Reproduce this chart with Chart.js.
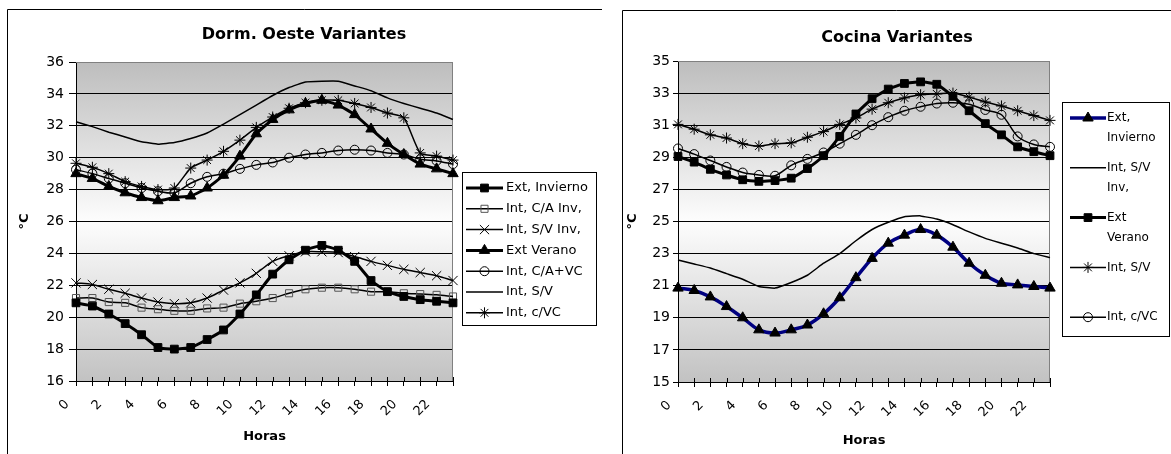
<!DOCTYPE html>
<html>
<head>
<meta charset="utf-8">
<script src="https://cdn.jsdelivr.net/npm/chart.js@4.4.1/dist/chart.umd.min.js"></script>
<style>
  html, body { margin: 0; padding: 0; background: #fff; }
  body { width: 1171px; height: 454px; position: relative; overflow: hidden; }
  .wrap { position: absolute; top: 0; height: 454px; }
  #w1 { left: 0; width: 612px; }
  #w2 { left: 612px; width: 559px; }
  canvas { display: block; }
</style>
</head>
<body>
<div class="wrap" id="w1"><canvas id="c1" width="612" height="454"></canvas></div>
<div class="wrap" id="w2"><canvas id="c2" width="559" height="454"></canvas></div>
<script>
// Hours of the day (category axis)
const horas = [0, 1, 2, 3, 4, 5, 6, 7, 8, 9, 10, 11, 12, 13, 14, 15, 16, 17, 18, 19, 20, 21, 22, 23];

// Dormitorio oeste (°C)
const dormExtInvierno = [20.9, 20.7, 20.2, 19.6, 18.9, 18.1, 18.0, 18.1, 18.6, 19.2, 20.2, 21.4, 22.7, 23.6, 24.2, 24.5, 24.2, 23.5, 22.3, 21.6, 21.3, 21.1, 21.0, 20.9];
const dormIntCAInv    = [21.2, 21.2, 20.95, 20.9, 20.6, 20.5, 20.4, 20.4, 20.55, 20.6, 20.85, 21.0, 21.2, 21.5, 21.75, 21.85, 21.85, 21.75, 21.6, 21.6, 21.5, 21.45, 21.4, 21.3];
const dormIntSVInv    = [22.15, 22.05, 21.75, 21.5, 21.2, 20.95, 20.85, 20.9, 21.2, 21.7, 22.15, 22.75, 23.5, 23.85, 24.1, 24.1, 24.05, 23.8, 23.5, 23.25, 23.0, 22.8, 22.6, 22.3];
const dormExtVerano   = [29.0, 28.7, 28.2, 27.8, 27.5, 27.3, 27.5, 27.6, 28.1, 28.9, 30.1, 31.5, 32.4, 33.0, 33.4, 33.6, 33.3, 32.7, 31.8, 30.9, 30.2, 29.6, 29.3, 29.0];
const dormIntCAVC     = [29.25, 29.0, 28.7, 28.4, 28.1, 27.9, 27.8, 28.4, 28.8, 29.0, 29.3, 29.55, 29.7, 30.0, 30.2, 30.3, 30.45, 30.5, 30.45, 30.3, 30.2, 29.9, 29.8, 29.6];
const dormIntSV       = [32.25, 31.95, 31.6, 31.3, 31.0, 30.85, 30.95, 31.2, 31.55, 32.1, 32.7, 33.3, 33.9, 34.4, 34.75, 34.8, 34.8, 34.5, 34.2, 33.75, 33.4, 33.1, 32.8, 32.4];
const dormIntCVC      = [29.65, 29.4, 29.0, 28.5, 28.2, 28.0, 28.1, 29.35, 29.85, 30.4, 31.1, 31.9, 32.55, 33.1, 33.45, 33.6, 33.6, 33.4, 33.15, 32.8, 32.5, 30.3, 30.1, 29.85];

// Cocina (°C)
const cocExtInvierno = [20.85, 20.7, 20.3, 19.7, 19.0, 18.25, 18.05, 18.25, 18.55, 19.25, 20.25, 21.5, 22.7, 23.65, 24.15, 24.5, 24.15, 23.4, 22.4, 21.65, 21.15, 21.05, 20.95, 20.85];
const cocIntSVInv    = [22.6, 22.35, 22.1, 21.75, 21.4, 20.95, 20.85, 21.2, 21.65, 22.4, 23.0, 23.8, 24.5, 24.95, 25.3, 25.35, 25.15, 24.8, 24.35, 23.95, 23.65, 23.35, 23.0, 22.75];
const cocExtVerano   = [29.05, 28.7, 28.25, 27.9, 27.6, 27.5, 27.55, 27.7, 28.3, 29.1, 30.3, 31.7, 32.65, 33.25, 33.6, 33.7, 33.55, 32.8, 31.9, 31.1, 30.4, 29.65, 29.35, 29.1];
const cocIntSV       = [31.05, 30.75, 30.4, 30.2, 29.85, 29.7, 29.85, 29.9, 30.25, 30.6, 31.05, 31.45, 32.0, 32.4, 32.7, 32.9, 32.95, 33.0, 32.75, 32.45, 32.2, 31.9, 31.6, 31.3];
const cocIntCVC      = [29.55, 29.2, 28.8, 28.4, 28.05, 27.9, 27.85, 28.5, 28.9, 29.3, 29.85, 30.4, 31.0, 31.5, 31.9, 32.15, 32.35, 32.4, 32.3, 31.95, 31.65, 30.3, 29.8, 29.65];

// Series names
const dormNames = ['Ext, Invierno', 'Int, C/A Inv,', 'Int, S/V Inv,', 'Ext Verano', 'Int, C/A+VC', 'Int, S/V', 'Int, c/VC'];
const cocNames  = ['Ext,\nInvierno', 'Int, S/V\nInv,', 'Ext\nVerano', 'Int, S/V', 'Int, c/VC'];

// Axis ranges
const dormY = { min: 16, max: 36, step: 2 };
const cocY  = { min: 15, max: 35, step: 2 };

const FONT = '"DejaVu Sans", "Liberation Sans", sans-serif';
Chart.defaults.font.family = FONT;
Chart.defaults.color = '#000';

function series(label, data, o) {
  return Object.assign({
    label, data,
    borderColor: '#000', borderWidth: 1.5,
    pointStyle: false, pointRadius: 0, pointBorderWidth: 1,
    pointBackgroundColor: '#000', pointBorderColor: '#000',
    tension: 0.3, fill: false
  }, o);
}

function drawMarker(ctx, ds, x, y) {
  if (!ds.pointStyle || !ds.pointRadius) return;
  ctx.fillStyle = ds.pointBackgroundColor;
  ctx.strokeStyle = ds.pointBorderColor;
  ctx.lineWidth = ds.pointBorderWidth;
  Chart.helpers.drawPoint(ctx, { pointStyle: ds.pointStyle, rotation: 0, radius: ds.pointRadius, borderWidth: ds.pointBorderWidth }, x, y);
}

// Plot background, frame, titles and legend drawn around the Chart.js plot
const decor = {
  id: 'decor',
  beforeDraw(chart, args, o) {
    const { ctx, chartArea: a } = chart;
    ctx.save();
    const g = ctx.createLinearGradient(0, a.top, 0, a.bottom);
    g.addColorStop(0, '#bdbdbd');
    g.addColorStop(0.5, '#fdfdfd');
    g.addColorStop(1, '#c2c2c2');
    ctx.fillStyle = g;
    ctx.fillRect(a.left, a.top, a.right - a.left, a.bottom - a.top);

    ctx.strokeStyle = '#000';
    ctx.lineWidth = 1;
    ctx.beginPath();
    ctx.moveTo(o.frameX + 0.5, chart.height);
    ctx.lineTo(o.frameX + 0.5, o.frameY + 0.5);
    ctx.lineTo(o.frameRight, o.frameY + 0.5);
    ctx.stroke();

    ctx.fillStyle = '#000';
    ctx.textAlign = 'center';
    ctx.textBaseline = 'middle';
    ctx.font = 'bold ' + o.titleSize + 'px ' + FONT;
    ctx.fillText(o.title, o.titleX, o.titleY);
    ctx.font = 'bold 13px ' + FONT;
    ctx.fillText('Horas', (a.left + a.right) / 2, o.xTitleY);
    ctx.translate(o.yTitleX, (a.top + a.bottom) / 2);
    ctx.rotate(-Math.PI / 2);
    ctx.fillText('°C', 0, 0);
    ctx.restore();
  },
  beforeDatasetsDraw(chart) {
    const { ctx, chartArea: a } = chart;
    const xs = chart.scales.x;
    ctx.save();
    // plot border (top and right)
    ctx.strokeStyle = '#808080';
    ctx.lineWidth = 1;
    ctx.beginPath();
    ctx.moveTo(a.left, a.top + 0.5);
    ctx.lineTo(a.right - 0.5, a.top + 0.5);
    ctx.lineTo(a.right - 0.5, a.bottom);
    ctx.stroke();
    // tick marks crossing the category axis
    ctx.strokeStyle = '#000';
    ctx.beginPath();
    for (let i = 0; i < chart.data.labels.length; i++) {
      const px = Math.round(xs.getPixelForValue(i)) + 0.5;
      ctx.moveTo(px, a.bottom - 4);
      ctx.lineTo(px, a.bottom);
    }
    ctx.stroke();
    ctx.restore();
  },
  afterDraw(chart, args, o) {
    const ctx = chart.ctx;
    const L = o.legend;
    ctx.save();
    ctx.fillStyle = '#fff';
    ctx.fillRect(L.x, L.y, L.w, L.h);
    ctx.strokeStyle = '#000';
    ctx.lineWidth = 1;
    ctx.strokeRect(L.x + 0.5, L.y + 0.5, L.w, L.h);
    ctx.font = L.fontSize + 'px ' + FONT;
    ctx.textAlign = 'left';
    ctx.textBaseline = 'middle';
    chart.data.datasets.forEach((ds, i) => {
      const y = L.row0 + i * L.rowGap;
      ctx.strokeStyle = ds.borderColor;
      ctx.lineWidth = ds.borderWidth;
      ctx.beginPath();
      ctx.moveTo(L.sx0, y);
      ctx.lineTo(L.sx1, y);
      ctx.stroke();
      drawMarker(ctx, ds, (L.sx0 + L.sx1) / 2, y);
      ctx.fillStyle = '#000';
      ds.label.split('\n').forEach((t, k) => ctx.fillText(t, L.tx, y + k * L.lineGap));
    });
    ctx.restore();
  }
};

function makeOptions(range, p) {
  return {
    responsive: false,
    animation: false,
    events: [],
    layout: { autoPadding: false, padding: p.padding },
    plugins: { legend: { display: false }, tooltip: { enabled: false }, decor: p.decor },
    scales: {
      x: {
        type: 'category',
        offset: false,
        afterFit(s) { s.height = 50; },
        grid: { display: true, drawOnChartArea: false, drawTicks: true, tickLength: 5, color: '#000', tickColor: '#000' },
        border: { display: true, color: '#000', width: 1 },
        ticks: {
          autoSkip: false, minRotation: 45, maxRotation: 45, padding: 2,
          font: { size: 13 }, color: '#000',
          callback(v, i) { const h = horas[i]; return h % 2 === 0 ? String(h) + '   ' : ''; }
        }
      },
      y: {
        min: range.min, max: range.max,
        afterFit(s) { s.width = 50; },
        grid: {
          color: (c) => (c.tick && c.tick.value === range.max ? '#808080' : '#000'),
          tickColor: '#000', tickLength: p.yTick, lineWidth: 1
        },
        border: { display: true, color: '#000', width: 1 },
        ticks: { stepSize: range.step, padding: p.yPad, font: { size: 14 }, color: '#000' }
      }
    }
  };
}

// Chart 1: Dorm. Oeste Variantes
new Chart(document.getElementById('c1'), {
  type: 'line',
  data: {
    labels: horas,
    datasets: [
      series(dormNames[0], dormExtInvierno, { borderWidth: 3, pointStyle: 'rect', pointRadius: 5.5, tension: 0.15 }),
      series(dormNames[1], dormIntCAInv, { pointStyle: 'rect', pointRadius: 5, pointBackgroundColor: 'rgba(0,0,0,0)', pointBorderColor: '#555' }),
      series(dormNames[2], dormIntSVInv, { pointStyle: 'crossRot', pointRadius: 6.5 }),
      series(dormNames[3], dormExtVerano, { borderWidth: 3, pointStyle: 'triangle', pointRadius: 6, tension: 0.15 }),
      series(dormNames[4], dormIntCAVC, { pointStyle: 'circle', pointRadius: 4.5, pointBackgroundColor: 'rgba(0,0,0,0)' }),
      series(dormNames[5], dormIntSV, { tension: 0.1 }),
      series(dormNames[6], dormIntCVC, { pointStyle: 'star', pointRadius: 5.5, tension: 0.2 })
    ]
  },
  plugins: [decor],
  options: makeOptions(dormY, {
    padding: { left: 26, right: 159, top: 62, bottom: 23 },
    yTick: 7, yPad: 5,
    decor: {
      frameX: 7, frameY: 9, frameRight: 602,
      title: 'Dorm. Oeste Variantes', titleSize: 16, titleX: 304, titleY: 35,
      xTitleY: 437, yTitleX: 25,
      legend: { x: 462, y: 172, w: 134, h: 153, row0: 188, rowGap: 20.8, lineGap: 0, sx0: 466, sx1: 503, tx: 506, fontSize: 13 }
    }
  })
});

// Chart 2: Cocina Variantes
new Chart(document.getElementById('c2'), {
  type: 'line',
  data: {
    labels: horas,
    datasets: [
      series(cocNames[0], cocExtInvierno, { borderColor: '#000080', borderWidth: 3.5, pointStyle: 'triangle', pointRadius: 6, tension: 0.4 }),
      series(cocNames[1], cocIntSVInv, { tension: 0.1 }),
      series(cocNames[2], cocExtVerano, { borderWidth: 3, pointStyle: 'rect', pointRadius: 5.5, tension: 0.15 }),
      series(cocNames[3], cocIntSV, { pointStyle: 'star', pointRadius: 5.5, tension: 0.25 }),
      series(cocNames[4], cocIntCVC, { pointStyle: 'circle', pointRadius: 4.5, pointBackgroundColor: 'rgba(0,0,0,0)', tension: 0.3 })
    ]
  },
  plugins: [decor],
  options: makeOptions(cocY, {
    padding: { left: 16, right: 121, top: 61, bottom: 22 },
    yTick: 5, yPad: 3,
    decor: {
      frameX: 10, frameY: 10, frameRight: 559,
      title: 'Cocina Variantes', titleSize: 16, titleX: 285, titleY: 38,
      xTitleY: 441, yTitleX: 21,
      legend: { x: 450, y: 102, w: 107, h: 234, row0: 118, rowGap: 49.8, lineGap: 20, sx0: 458, sx1: 494, tx: 495, fontSize: 12 }
    }
  })
});
</script>
</body>
</html>
